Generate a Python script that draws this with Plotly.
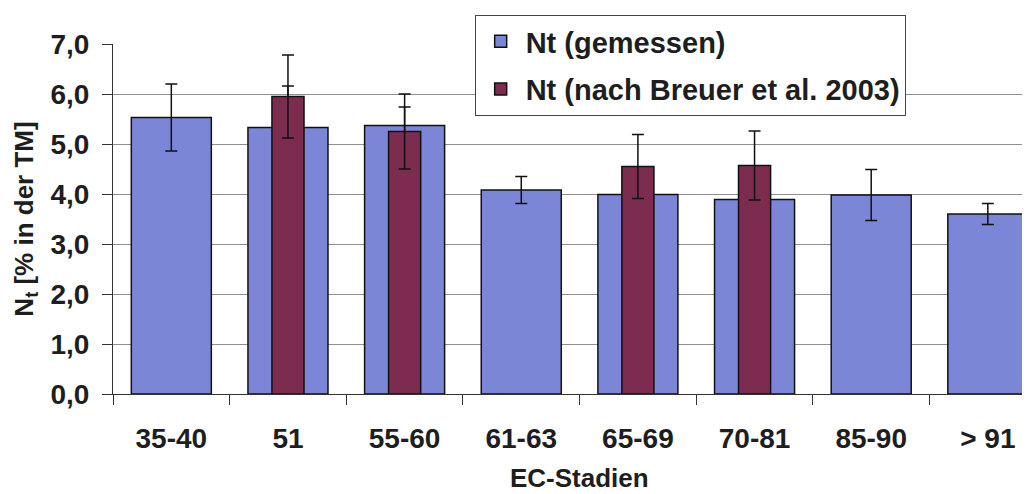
import plotly.graph_objects as go

categories = ["35-40", "51", "55-60", "61-63", "65-69", "70-81", "85-90", "> 91"]
nt_gemessen = [5.53, 5.33, 5.37, 4.08, 3.99, 3.89, 3.98, 3.60]
nt_gemessen_err = [0.67, 0.83, 0.37, 0.27, 0.50, 0.50, 0.51, 0.21]
nt_breuer = [None, 5.95, 5.25, None, 4.55, 4.57, None, None]
nt_breuer_err = [None, 0.83, 0.75, None, 0.64, 0.69, None, None]

BLUE = "#7b86d6"
MAROON = "#7c2c4e"
TXT = "#1e1e1e"
FONT = "Liberation Sans, Arial, sans-serif"

fig = go.Figure()
fig.add_trace(go.Bar(
    x=categories, y=nt_gemessen, name="Nt (gemessen)",
    width=0.686, legendgroup="a",
    marker=dict(color=BLUE, line=dict(color="#111111", width=1.5)),
    error_y=dict(type="data", array=nt_gemessen_err, visible=True,
                 color="#111111", thickness=1.5, width=6),
))
fig.add_trace(go.Bar(
    x=categories, y=nt_breuer, name="Nt (nach Breuer et al. 2003)",
    width=0.275, legendgroup="b",
    marker=dict(color=MAROON, line=dict(color="#111111", width=1.5)),
    error_y=dict(type="data", array=nt_breuer_err, visible=True,
                 color="#111111", thickness=1.5, width=6),
))

fig.update_layout(
    width=1030, height=494,
    margin=dict(l=105, r=0, t=36, b=108, autoexpand=False),
    paper_bgcolor="white", plot_bgcolor="white",
    barmode="overlay",
    separators=",.",
    font=dict(family=FONT, size=28, color=TXT),
    showlegend=True,
    legend=dict(
        x=0.391, y=1.083, xanchor="left", yanchor="top",
        bgcolor="white", bordercolor="#444444", borderwidth=1,
        font=dict(family=FONT, size=29, color=TXT, weight="bold"),
        tracegroupgap=7, itemwidth=40,
    ),
    xaxis=dict(
        type="category", automargin=False,
        range=[-0.5, 7.43],
        showline=True, linecolor="#333333", linewidth=1,
        ticks="outside", ticklen=10, tickcolor="#333333", tickson="boundaries",
        tickfont=dict(family=FONT, size=28, color=TXT, weight="bold"),
        ticklabelstandoff=19,
        showgrid=False,
    ),
    yaxis=dict(
        automargin=False,
        range=[0, 7], dtick=1, tick0=0, tickformat=".1f",
        showline=True, linecolor="#333333", linewidth=1,
        ticks="outside", ticklen=10, tickcolor="#333333",
        showgrid=True, gridcolor="#8f8f8f", gridwidth=1,
        zeroline=False,
        tickfont=dict(family=FONT, size=28, color=TXT, weight="bold"),
        ticklabelstandoff=7,
        title=dict(text="N<sub>t</sub> [% in der TM]", standoff=9,
                   font=dict(family=FONT, size=26, color=TXT, weight="bold")),
    ),
    annotations=[dict(
        text="EC-Stadien", xref="x", yref="paper", x=3.5, y=0,
        yshift=-84, xanchor="center", yanchor="middle", showarrow=False,
        font=dict(family=FONT, size=26, color=TXT, weight="bold"),
    )],
)

fig.write_html("out.html")
